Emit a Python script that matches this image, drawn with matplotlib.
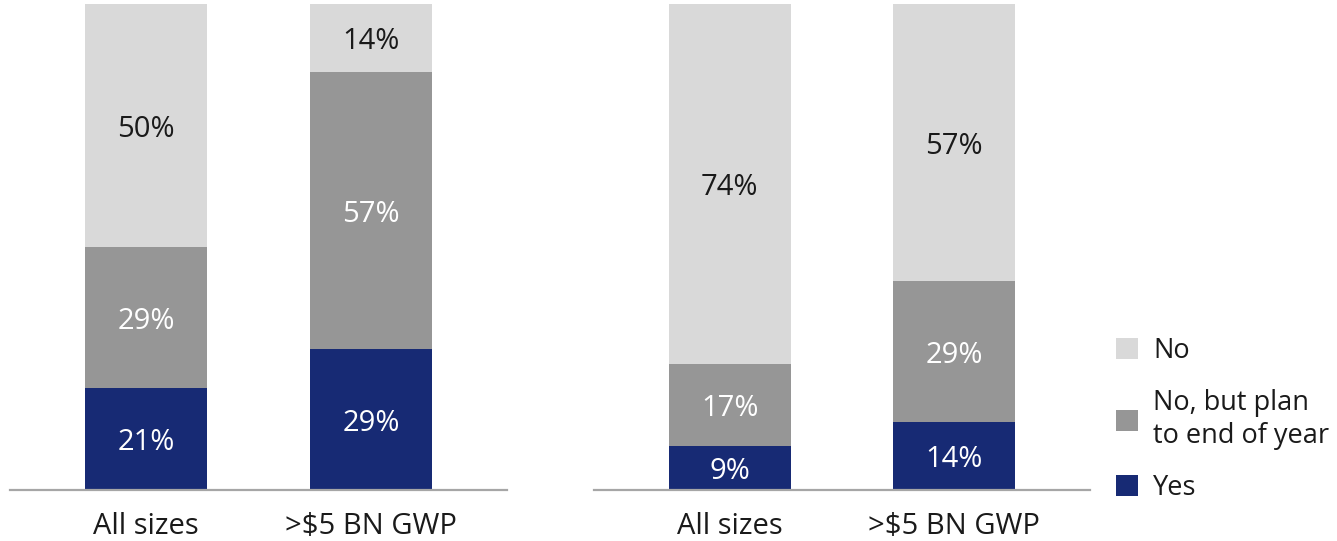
import matplotlib.pyplot as plt

plt.rcParams['font.family'] = ['Open Sans', 'DejaVu Sans']

categories = ["All sizes", ">$5 BN GWP"]
series_names = ["Yes", "No, but plan\nto end of year", "No"]
colors = ["#172a74", "#969696", "#d9d9d9"]
text_colors = ["white", "white", "#1a1a1a"]

# left chart
left_yes = [21, 29]
left_plan = [29, 57]
left_no = [50, 14]

# right chart
right_yes = [9, 14]
right_plan = [17, 29]
right_no = [74, 57]


def draw_stack(ax, values):
    x = range(len(categories))
    bottom = [0] * len(categories)
    handles = []
    for vals, col, tcol, name in zip(values, colors, text_colors, series_names):
        b = ax.bar(x, vals, bottom=bottom, width=0.542, color=col, label=name)
        handles.append(b)
        for xi, v, b0 in zip(x, vals, bottom):
            ax.text(xi, b0 + v / 2, str(v) + "%", ha="center", va="center_baseline",
                    color=tcol, fontsize=21)
        bottom = [b0 + v for b0, v in zip(bottom, vals)]
    ax.set_xlim(-0.604, 1.604)
    ax.set_ylim(0, 100)
    ax.set_xticks(list(x))
    ax.set_xticklabels(categories, fontsize=21, color="#1a1a1a")
    ax.tick_params(axis="x", length=0, pad=16)
    ax.set_yticks([])
    for s in ["top", "left", "right"]:
        ax.spines[s].set_visible(False)
    ax.spines["bottom"].set_color("#a6a6a6")
    ax.spines["bottom"].set_linewidth(1.6)
    return handles


fig = plt.figure(figsize=(13.37, 5.41), dpi=100)
ax1 = fig.add_axes([0.0075, 0.0943, 0.3717, 0.898])
ax2 = fig.add_axes([0.4443, 0.0943, 0.3710, 0.898])

h = draw_stack(ax1, [left_yes, left_plan, left_no])
draw_stack(ax2, [right_yes, right_plan, right_no])

fig.legend(h[::-1], series_names[::-1], loc="lower left",
           bbox_to_anchor=(0.8168, 0.027), frameon=False, fontsize=19.5,
           handlelength=0.81, handleheight=0.81, handletextpad=0.55,
           labelspacing=0.9, labelcolor="#1a1a1a")

fig.savefig("out.png", dpi=100)
